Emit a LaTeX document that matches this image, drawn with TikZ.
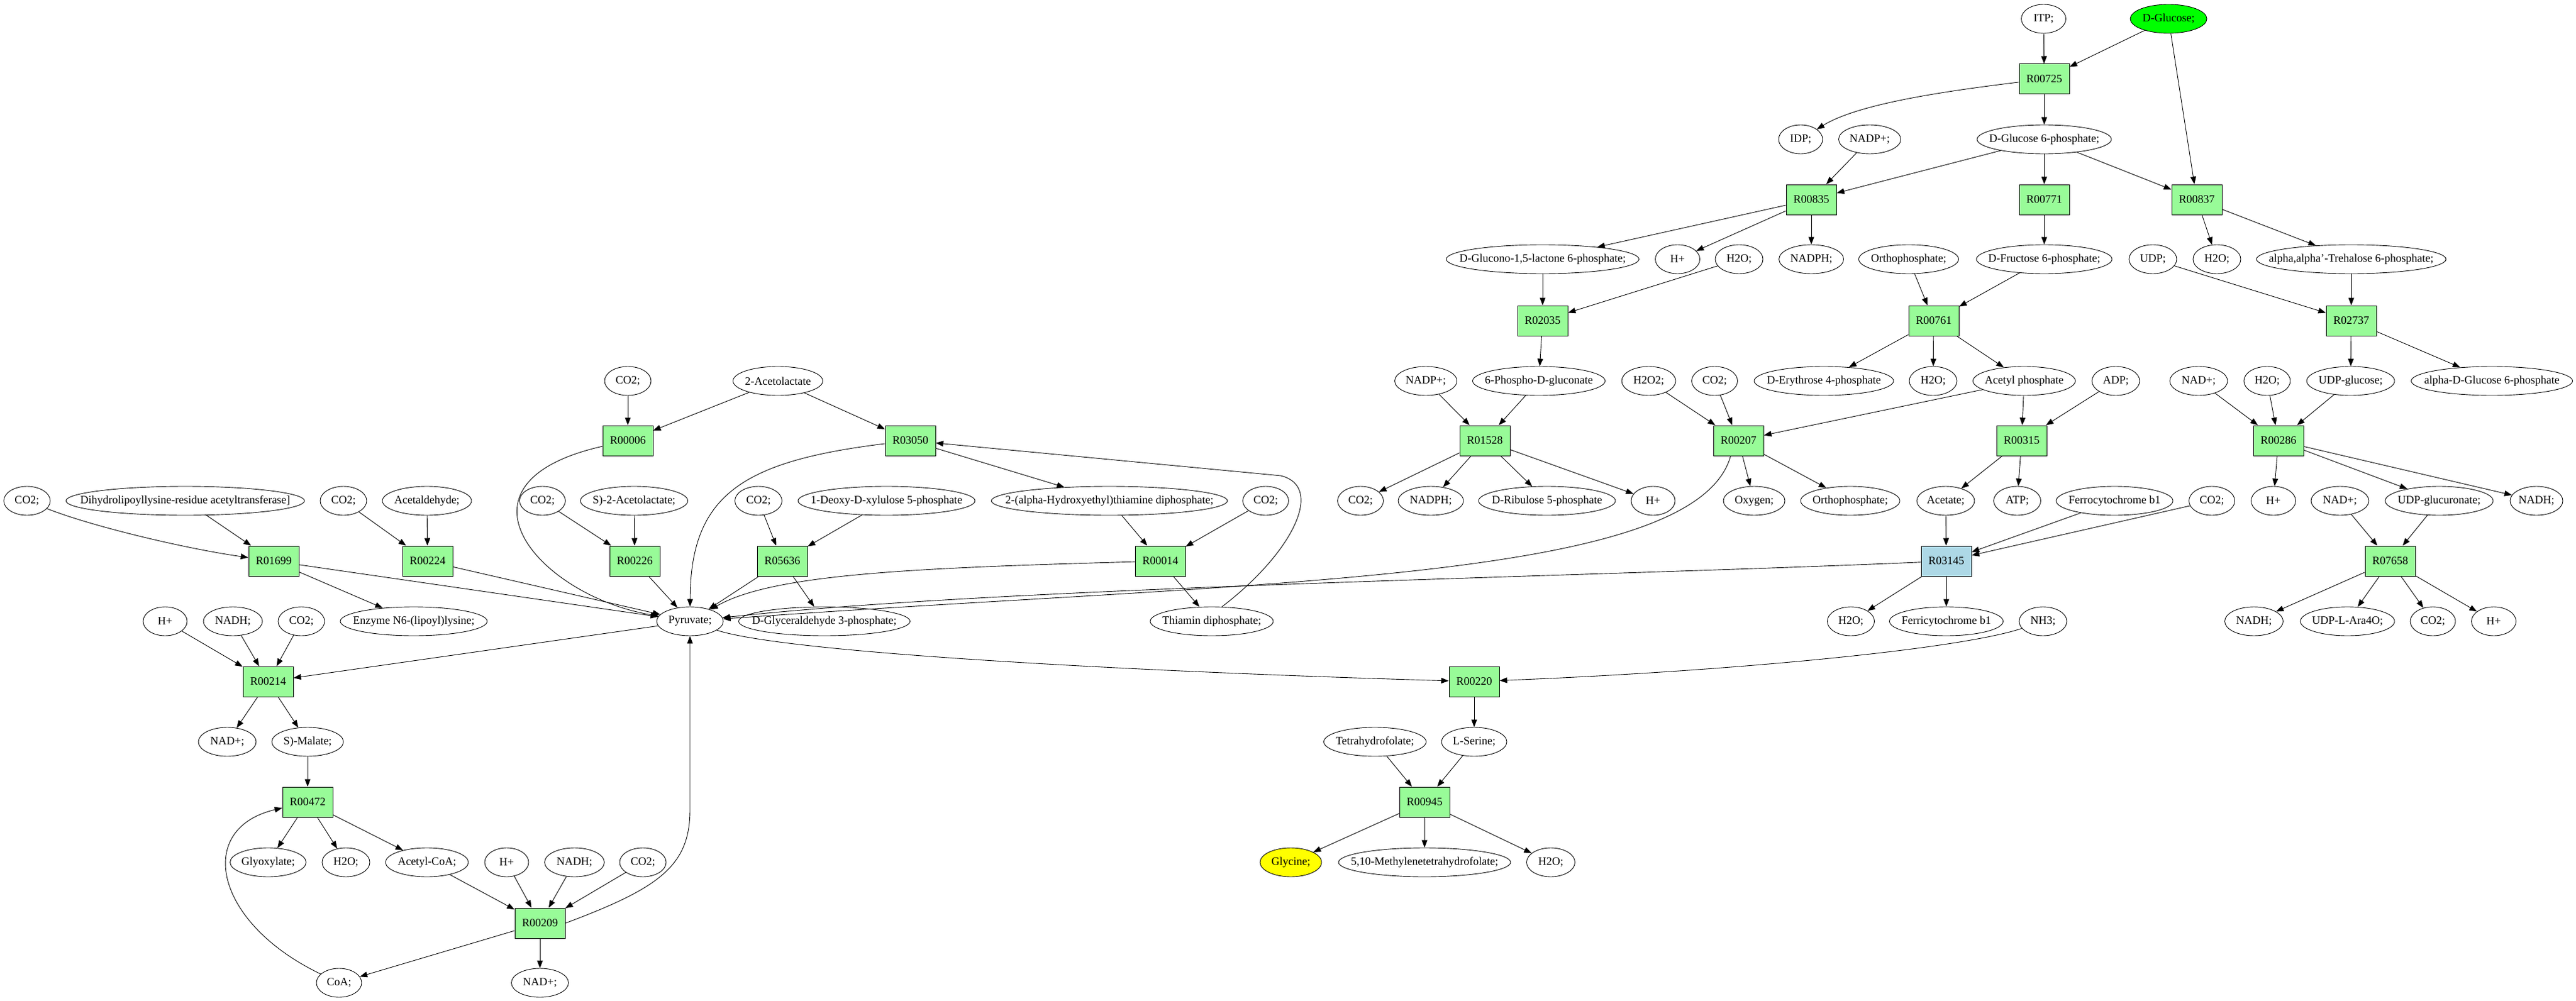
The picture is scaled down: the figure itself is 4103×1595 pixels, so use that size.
\documentclass[tikz,border=0pt]{standalone}
\usepackage{fontspec}
\setmainfont{Liberation Serif}
\usetikzlibrary{shapes.geometric,arrows.meta}
\definecolor{rxgreen}{HTML}{98FB98}
\definecolor{rxblue}{HTML}{ADD8E6}
\definecolor{glcgreen}{HTML}{00FF00}
\definecolor{glyyellow}{HTML}{FFFF00}
\tikzset{
  every node/.style={font=\fontsize{9pt}{10pt}\selectfont},
  met/.style={ellipse, draw, line width=0.45pt, inner xsep=-40pt, inner ysep=0pt, minimum height=23pt, minimum width={#1*0.5pt}},
  rxn/.style={rectangle, draw, fill=rxgreen, line width=0.5pt, minimum width=40pt, minimum height=24pt, inner sep=0pt},
  ar/.style={draw, line width=0.45pt, -{Triangle[length=6pt,width=4.5pt]}}
}
\begin{document}
\begin{tikzpicture}[x=0.5pt,y=-0.5pt]
\fill[white] (0,0) rectangle (4103,1595);
\useasboundingbox (0,0) rectangle (4103,1595);
% row 30
\node[met=71] (itp) at (3255,30) {ITP;};
\node[met=122, fill=glcgreen] (glc) at (3454,30) {D-Glucose;};
\node[rxn] (r00725) at (3256,126) {R00725};
% row 222
\node[met=70] (idp) at (2868,222) {IDP;};
\node[met=99] (nadpA) at (2978,222) {NADP+;};
\node[met=214] (g6p) at (3256,222) {D-Glucose 6-phosphate;};
% row 318
\node[rxn] (r00835) at (2885,318) {R00835};
\node[rxn] (r00771) at (3256,318) {R00771};
\node[rxn] (r00837) at (3499,318) {R00837};
% row 413
\node[met=307] (glucono) at (2457,413) {D-Glucono-1,5-lactone 6-phosphate;};
\node[met=71] (hA) at (2672,413) {H+};
\node[met=76] (h2oA) at (2770,413) {H2O;};
\node[met=103] (nadphA) at (2885,413) {NADPH;};
\node[met=159] (orthoA) at (3040,413) {Orthophosphate;};
\node[met=216] (f6p) at (3256,413) {D-Fructose 6-phosphate;};
\node[met=76] (udp) at (3429,413) {UDP;};
\node[met=76] (h2oB) at (3531,413) {H2O;};
\node[met=302] (treh) at (3745,413) {alpha,alpha'-Trehalose 6-phosphate;};
% row 511
\node[rxn] (r02035) at (2457,511) {R02035};
\node[rxn] (r00761) at (3080,511) {R00761};
\node[rxn] (r02737) at (3745,511) {R02737};
% row 607
\node[met=74] (co2B) at (1000,607) {CO2;};
\node[met=143] (acetolac) at (1239,607) {2-Acetolactate};
\node[met=99] (nadpB) at (2271,607) {NADP+;};
\node[met=211] (pgluc) at (2451,607) {6-Phospho-D-gluconate};
\node[met=86] (h2o2) at (2626,607) {H2O2;};
\node[met=73] (co2A) at (2731,607) {CO2;};
\node[met=222] (e4p) at (2905,607) {D-Erythrose 4-phosphate};
\node[met=76] (h2oC) at (3079,607) {H2O;};
\node[met=163] (acp) at (3224,607) {Acetyl phosphate};
\node[met=76] (adp) at (3370,607) {ADP;};
\node[met=92] (nadA) at (3502,607) {NAD+;};
\node[met=74] (h2oD) at (3611,607) {H2O;};
\node[met=140] (udpg) at (3744,607) {UDP-glucose;};
\node[met=257] (a6p) at (3969,607) {alpha-D-Glucose 6-phosphate};
% row 702
\node[rxn] (r00006) at (1000,702) {R00006};
\node[rxn] (r03050) at (1450,702) {R03050};
\node[rxn] (r01528) at (2365,702) {R01528};
\node[rxn] (r00207) at (2769,702) {R00207};
\node[rxn] (r00315) at (3220,702) {R00315};
\node[rxn] (r00286) at (3629,702) {R00286};
% row 798
\node[met=74] (co2C) at (43,798) {CO2;};
\node[met=380] (dihyd) at (295,798) {Dihydrolipoyllysine-residue acetyltransferase]};
\node[met=74] (co2D) at (547,798) {CO2;};
\node[met=142] (acald) at (680,798) {Acetaldehyde;};
\node[met=73] (co2E) at (864,798) {CO2;};
\node[met=171] (sacl) at (1010,798) {S)-2-Acetolactate;};
\node[met=75] (co2F) at (1208,798) {CO2;};
\node[met=282] (dxp) at (1412,798) {1-Deoxy-D-xylulose 5-phosphate};
\node[met=376] (hetpp) at (1767,798) {2-(alpha-Hydroxyethyl)thiamine diphosphate;};
\node[met=73] (co2G) at (2016,798) {CO2;};
\node[met=73] (co2H) at (2167,798) {CO2;};
\node[met=104] (nadphB) at (2279,798) {NADPH;};
\node[met=218] (ru5p) at (2464,798) {D-Ribulose 5-phosphate};
\node[met=70] (hB) at (2633,798) {H+};
\node[met=98] (oxy) at (2794,798) {Oxygen;};
\node[met=158] (orthoB) at (2947,798) {Orthophosphate;};
\node[met=92] (acet) at (3099,798) {Acetate;};
\node[met=75] (atp) at (3213,798) {ATP;};
\node[met=186] (ferro) at (3368,798) {Ferrocytochrome b1};
\node[met=73] (co2I) at (3523,798) {CO2;};
\node[met=71] (hC) at (3621,798) {H+};
\node[met=92] (nadB) at (3727,798) {NAD+;};
\node[met=172] (udpga) at (3885,798) {UDP-glucuronate;};
\node[met=84] (nadhA) at (4040,798) {NADH;};
% row 894
\node[rxn] (r01699) at (436,894) {R01699};
\node[rxn] (r00224) at (681,894) {R00224};
\node[rxn] (r00226) at (1011,894) {R00226};
\node[rxn] (r05636) at (1246,894) {R05636};
\node[rxn] (r00014) at (1848,894) {R00014};
\node[rxn, fill=rxblue] (r03145) at (3100,894) {R03145};
\node[rxn] (r07658) at (3807,894) {R07658};
% row 990
\node[met=70] (hD) at (263,990) {H+};
\node[met=94] (nadhB) at (371,990) {NADH;};
\node[met=74] (co2J) at (480,990) {CO2;};
\node[met=234] (enz) at (659,990) {Enzyme N6-(lipoyl)lysine;};
\node[met=106] (pyr) at (1099,990) {Pyruvate;};
\node[met=273] (gap) at (1313,990) {D-Glyceraldehyde 3-phosphate;};
\node[met=196] (tpp) at (1930,990) {Thiamin diphosphate;};
\node[met=75] (h2oE) at (2948,990) {H2O;};
\node[met=181] (ferri) at (3100,990) {Ferricytochrome b1};
\node[met=76] (nh3) at (3254,990) {NH3;};
\node[met=93] (nadhC) at (3590,990) {NADH;};
\node[met=150] (ara) at (3739,990) {UDP-L-Ara4O;};
\node[met=72] (co2K) at (3875,990) {CO2;};
\node[met=71] (hE) at (3972,990) {H+};
% row 1086
\node[rxn] (r00214) at (427,1086) {R00214};
\node[rxn] (r00220) at (2348,1086) {R00220};
% row 1182
\node[met=92] (nadC) at (362,1182) {NAD+;};
\node[met=114] (malate) at (490,1182) {S)-Malate;};
\node[met=163] (thf) at (2190,1182) {Tetrahydrofolate;};
\node[met=104] (ser) at (2348,1182) {L-Serine;};
% row 1278
\node[rxn] (r00472) at (490,1278) {R00472};
\node[rxn] (r00945) at (2269,1278) {R00945};
% row 1374
\node[met=121] (glyox) at (427,1374) {Glyoxylate;};
\node[met=76] (h2oF) at (551,1374) {H2O;};
\node[met=132] (accoa) at (680,1374) {Acetyl-CoA;};
\node[met=70] (hF) at (807,1374) {H+};
\node[met=95] (nadhD) at (915,1374) {NADH;};
\node[met=74] (co2L) at (1024,1374) {CO2;};
\node[met=98, fill=glyyellow] (gly) at (2056,1374) {Glycine;};
\node[met=274] (mthf) at (2269,1374) {5,10-Methylenetetrahydrofolate;};
\node[met=77] (h2oG) at (2470,1374) {H2O;};
% row 1471
\node[rxn] (r00209) at (860,1471) {R00209};
% row 1566
\node[met=72] (coa) at (540,1566) {CoA;};
\node[met=91] (nadD) at (860,1566) {NAD+;};

% ---------- edges ----------
\draw[ar] (itp) -- (r00725);
\draw[ar] (glc) -- (r00725);
\draw[ar] (glc) -- (r00837);
\draw[ar] (r00725) .. controls (3100,145) and (2960,165) .. (idp);
\draw[ar] (r00725) -- (g6p);
\draw[ar] (g6p) -- (r00835);
\draw[ar] (g6p) -- (r00771);
\draw[ar] (g6p) -- (r00837);
\draw[ar] (nadpA) -- (r00835);
\draw[ar] (r00835) -- (glucono);
\draw[ar] (r00835) -- (hA);
\draw[ar] (r00835) -- (nadphA);
\draw[ar] (r00771) -- (f6p);
\draw[ar] (r00837) -- (h2oB);
\draw[ar] (r00837) -- (treh);
\draw[ar] (glucono) -- (r02035);
\draw[ar] (h2oA) -- (r02035);
\draw[ar] (orthoA) -- (r00761);
\draw[ar] (f6p) -- (r00761);
\draw[ar] (r00761) -- (e4p);
\draw[ar] (r00761) -- (h2oC);
\draw[ar] (r00761) -- (acp);
\draw[ar] (udp) -- (r02737);
\draw[ar] (treh) -- (r02737);
\draw[ar] (r02737) -- (udpg);
\draw[ar] (r02737) -- (a6p);
\draw[ar] (r02035) -- (pgluc);
\draw[ar] (nadpB) -- (r01528);
\draw[ar] (pgluc) -- (r01528);
\draw[ar] (r01528) -- (co2H);
\draw[ar] (r01528) -- (nadphB);
\draw[ar] (r01528) -- (ru5p);
\draw[ar] (r01528) -- (hB);
\draw[ar] (h2o2) -- (r00207);
\draw[ar] (co2A) -- (r00207);
\draw[ar] (acp) -- (r00207);
\draw[ar] (r00207) -- (oxy);
\draw[ar] (r00207) -- (orthoB);
\draw[ar] (r00207.-117) .. controls (2700,930) and (2000,925) .. (pyr);
\draw[ar] (acp) -- (r00315);
\draw[ar] (adp) -- (r00315);
\draw[ar] (r00315) -- (acet);
\draw[ar] (r00315) -- (atp);
\draw[ar] (nadA) -- (r00286);
\draw[ar] (h2oD) -- (r00286);
\draw[ar] (udpg) -- (r00286);
\draw[ar] (r00286) -- (hC);
\draw[ar] (r00286) -- (udpga);
\draw[ar] (r00286) -- (nadhA);
\draw[ar] (nadB) -- (r07658);
\draw[ar] (udpga) -- (r07658);
\draw[ar] (r07658) -- (nadhC);
\draw[ar] (r07658) -- (ara);
\draw[ar] (r07658) -- (co2K);
\draw[ar] (r07658) -- (hE);
\draw[ar] (acet) -- (r03145);
\draw[ar] (ferro) -- (r03145);
\draw[ar] (co2I) -- (r03145);
\draw[ar] (r03145) -- (h2oE);
\draw[ar] (r03145) -- (ferri);
\draw[ar] (r03145) .. controls (2500,920) and (1600,935) .. (pyr);
\draw[ar] (nh3) .. controls (3120,1035) and (2750,1070) .. (r00220);
\draw[ar] (pyr) .. controls (1250,1040) and (1800,1070) .. (r00220);
\draw[ar] (r00220) -- (ser);
\draw[ar] (thf) -- (r00945);
\draw[ar] (ser) -- (r00945);
\draw[ar] (r00945) -- (gly);
\draw[ar] (r00945) -- (mthf);
\draw[ar] (r00945) -- (h2oG);
\draw[ar] (co2B) -- (r00006);
\draw[ar] (acetolac) -- (r00006);
\draw[ar] (acetolac) -- (r03050);
\draw[ar] (r00006) .. controls (700,770) and (860,950) .. (pyr);
\draw[ar] (r03050) .. controls (1180,735) and (1100,790) .. (pyr);
\draw[ar] (r03050) -- (hetpp);
\draw[ar] (co2C) .. controls (150,840) and (300,875) .. (r01699);
\draw[ar] (dihyd) -- (r01699);
\draw[ar] (r01699) -- (enz);
\draw[ar] (r01699) -- (pyr);
\draw[ar] (co2D) -- (r00224);
\draw[ar] (acald) -- (r00224);
\draw[ar] (r00224) -- (pyr);
\draw[ar] (co2E) -- (r00226);
\draw[ar] (sacl) -- (r00226);
\draw[ar] (r00226) -- (pyr);
\draw[ar] (co2F) -- (r05636);
\draw[ar] (dxp) -- (r05636);
\draw[ar] (r05636) -- (pyr);
\draw[ar] (r05636) -- (gap);
\draw[ar] (hetpp) -- (r00014);
\draw[ar] (co2G) -- (r00014);
\draw[ar] (r00014) .. controls (1450,905) and (1230,915) .. (pyr);
\draw[ar] (r00014) -- (tpp);
\draw[ar] (tpp.55) .. controls (2060,880) and (2110,775) .. (2040,758) -- (r03050);
\draw[ar] (pyr) -- (r00214);
\draw[ar] (hD) -- (r00214);
\draw[ar] (nadhB) -- (r00214);
\draw[ar] (co2J) -- (r00214);
\draw[ar] (r00214) -- (nadC);
\draw[ar] (r00214) -- (malate);
\draw[ar] (malate) -- (r00472);
\draw[ar] (r00472) -- (glyox);
\draw[ar] (r00472) -- (h2oF);
\draw[ar] (r00472) -- (accoa);
\draw[ar] (coa) .. controls (340,1470) and (310,1320) .. (r00472);
\draw[ar] (accoa) -- (r00209);
\draw[ar] (hF) -- (r00209);
\draw[ar] (nadhD) -- (r00209);
\draw[ar] (co2L) -- (r00209);
\draw[ar] (r00209) -- (coa);
\draw[ar] (r00209) -- (nadD);
\draw[ar] (r00209.east) .. controls (1050,1415) and (1099,1380) .. (1099,1290) -- (pyr);
\end{tikzpicture}
\end{document}
